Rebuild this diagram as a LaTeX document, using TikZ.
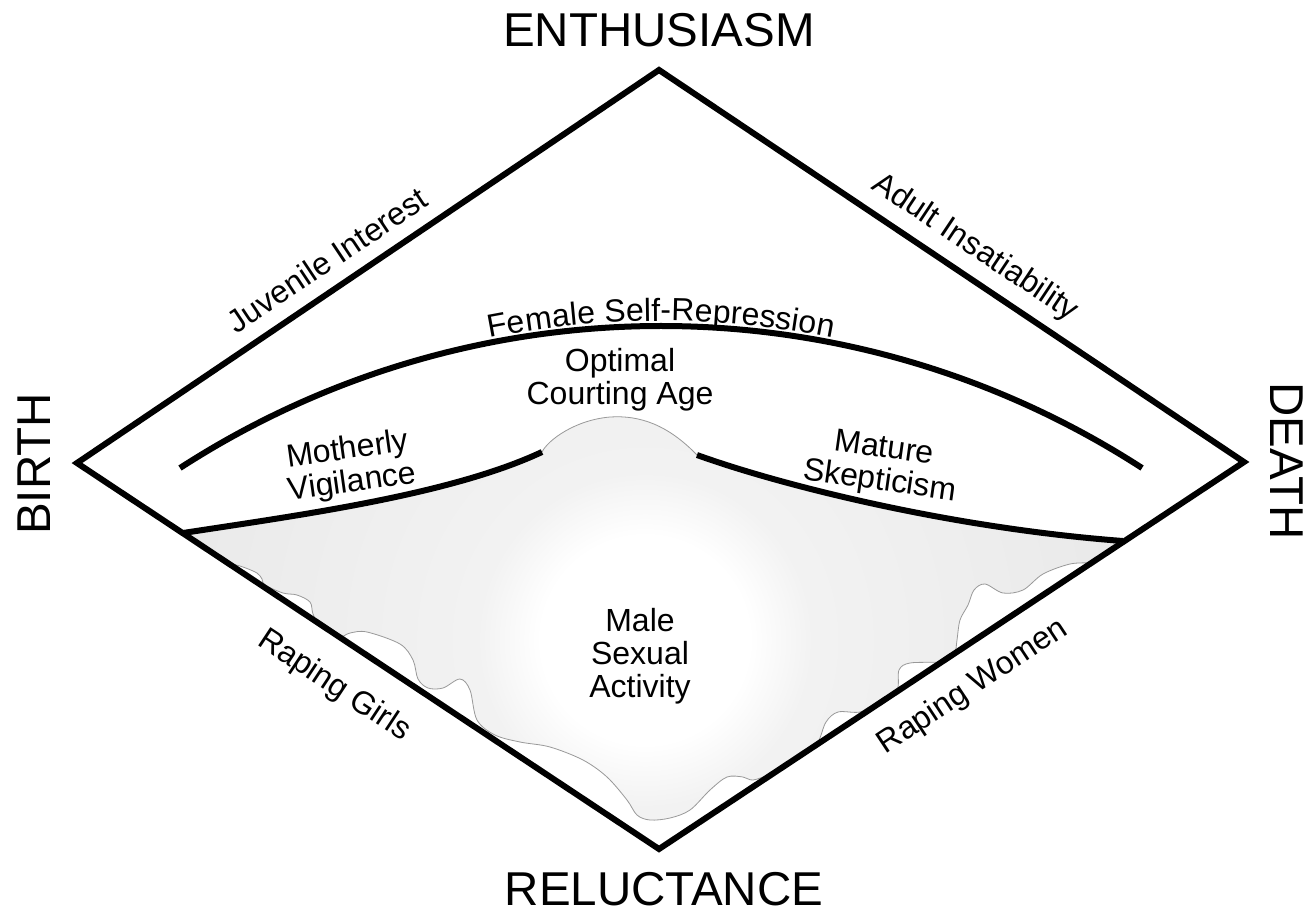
\documentclass[tikz,border=0pt]{standalone}
\usepackage{fontspec}
\setmainfont{Liberation Sans}
\usetikzlibrary{decorations.text}
\newcommand\labsize{\fontsize{32}{33}\selectfont}
\pgfdeclareradialshading{blobsh}{\pgfpoint{0bp}{0bp}}{color(0bp)=(white); color(5bp)=(white); color(8bp)=(black!5); color(21bp)=(black!8); color(32bp)=(black!12); color(40bp)=(black!15); color(50bp)=(black!19)}
\begin{document}
\begin{tikzpicture}[x=1pt,y=-1pt,
  big/.style={font=\fontsize{47.5}{50}\selectfont, inner sep=0pt},
  lab/.style={font=\labsize, inner sep=0pt, align=center},
  heavy/.style={line width=6pt, line join=miter},
  blobline/.style={draw=black!40, line width=0.8pt}]
\useasboundingbox (0,0) rectangle (1314,911);
\fill[white] (0,0) rectangle (1314,911);
\newcommand\blobpath{(183,533) .. controls (300,515) and (450,495) .. (542,452)
  .. controls (548,440) and (575,420) .. (610,417)
  .. controls (640,415) and (668,425) .. (697,455)
  .. controls (780,485) and (950,528) .. (1123,541)
  -- plot[smooth, tension=0.55] coordinates {(1090,563) (1070,564) (1043,574) (1023,590) (1003,593) (985,584) (974,590) (968,605) (960,620) (957,640) (955,652) (948,658) (940,662) (910,663) (899,670) (897,690) (880,703) (860,712) (838,712) (826,722) (818,742) (805,755) (785,764) (770,774) (753,780) (743,777) (727,777) (710,790) (690,810) (670,818) (650,820) (637,815) (627,800) (607,777) (583,760) (550,747) (520,742) (495,735) (477,720) (470,690) (460,679) (443,688) (428,688) (418,679) (413,660) (400,644) (367,632) (350,633) (338,637) (320,625) (313,614) (310,602) (297,595) (283,593) (265,585) (262,579) (257,573) (243,567) (227,562) (212,553)}
  -- cycle}
\begin{scope}
  \clip \blobpath;
  \shade[shading=blobsh] (645,640) circle (520);
\end{scope}
\draw[blobline] \blobpath;
\coordinate (T) at (659,70);
\coordinate (R) at (1244,462);
\coordinate (B) at (659,849);
\coordinate (L) at (77,463);
\draw[heavy] (T) -- (R) -- (B) -- (L) -- cycle;
\coordinate (arcL) at (180,468);
\coordinate (mvL) at (183,533);
\coordinate (mvR) at (542,452);
\coordinate (msL) at (697,455);
\coordinate (msR) at (1123,541);
\draw[heavy] (arcL) arc[start angle=-122.9, end angle=-57.1, radius=885.6];
\draw[heavy] (mvL) .. controls (300,515) and (450,495) .. (mvR);
\draw[heavy] (msL) .. controls (780,485) and (950,528) .. (msR);
\path[decorate, decoration={text along path, text={|\labsize|Female Self-Repression}, text align=center, raise=5pt}] (arcL) arc[start angle=-122.9, end angle=-57.1, radius=885.6];
\node[big] (enth) at (659,30.5) {ENTHUSIASM};
\node[big] (rel) at (664,889) {RELUCTANCE};
\node[big, rotate=90] (birth) at (34.5,464) {BIRTH};
\node[big, rotate=-90] (death) at (1286.5,461) {DEATH};
\node[lab, rotate=33.7] (juv) at (327,260) {Juvenile Interest};
\node[lab, rotate=-33.7] (adult) at (975,248) {Adult Insatiability};
\node[lab] (opt) at (620,380) {Optimal\\Courting Age};
\node[lab, rotate=8] (moth) at (350,467) {Motherly\\Vigilance};
\node[lab, rotate=-8] (mat) at (882,466) {Mature\\Skepticism};
\node[lab] (male) at (640,656) {Male\\Sexual\\Activity};
\node[lab, rotate=-33.5] (girls) at (334,686) {Raping Girls};
\node[lab, rotate=33.5] (women) at (973,687) {Raping Women};
\end{tikzpicture}
\end{document}
